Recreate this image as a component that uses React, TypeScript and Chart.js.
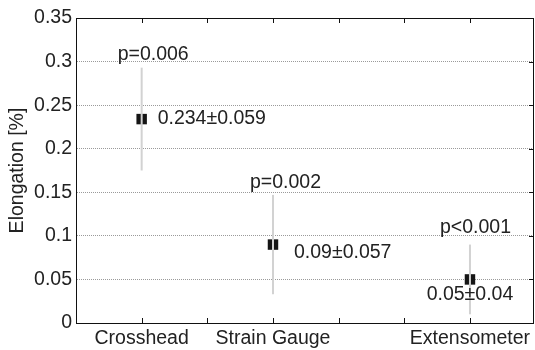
import React, { useEffect, useRef } from "react";
import { Chart, registerables } from "chart.js";

Chart.register(...registerables);

// ---- data ----
const categories = ["Crosshead", "Strain Gauge", "Extensometer"];
const categoryPositions = [1, 2, 3.5];
const means = [0.234, 0.09, 0.05];
const sds = [0.059, 0.057, 0.04];
const pLabels = ["p=0.006", "p=0.002", "p<0.001"];
const valueLabels = ["0.234±0.059", "0.09±0.057", "0.05±0.04"];
const yTickValues = [0, 0.05, 0.1, 0.15, 0.2, 0.25, 0.3, 0.35];
const xTickValues = [0.5, 1, 1.5, 2, 2.5, 3, 3.5, 3.98];

// ---- layout / style (pixels) ----
const FONT = '"Liberation Sans", Arial, Helvetica, sans-serif';
const FONT_SIZE = 19.5;
const TEXT_COLOR = "#222222";
const pLabelOffsets = [
  { dx: -24, dy: -8 },
  { dx: -23, dy: -7 },
  { dx: -30, dy: -12 },
];
const valueLabelOffsets = [
  { dx: 16, dy: 0, align: "left" as CanvasTextAlign },
  { dx: 21, dy: 8, align: "left" as CanvasTextAlign },
  { dx: 0, dy: 15, align: "center" as CanvasTextAlign },
];

const annotationPlugin = {
  id: "frameAndLabels",
  afterDatasetsDraw(chart: any) {
    const { ctx, chartArea } = chart;
    const xs = chart.scales.x;
    const ys = chart.scales.y;
    ctx.save();
    ctx.strokeStyle = "#111111";
    ctx.lineWidth = 1;
    ctx.strokeRect(
      Math.round(chartArea.left) + 0.5,
      Math.round(chartArea.top) + 0.5,
      Math.round(chartArea.right - chartArea.left),
      Math.round(chartArea.bottom - chartArea.top)
    );
    ctx.beginPath();
    xs.ticks.forEach((t: any) => {
      const px = Math.round(xs.getPixelForValue(t.value)) + 0.5;
      if (px <= chartArea.left + 2 || px >= chartArea.right - 2) return;
      ctx.moveTo(px, chartArea.bottom);
      ctx.lineTo(px, chartArea.bottom - 5);
      ctx.moveTo(px, chartArea.top);
      ctx.lineTo(px, chartArea.top + 5);
    });
    ys.ticks.forEach((t: any) => {
      const py = Math.round(ys.getPixelForValue(t.value)) + 0.5;
      if (py <= chartArea.top + 2 || py >= chartArea.bottom - 2) return;
      ctx.moveTo(chartArea.right, py);
      ctx.lineTo(chartArea.right - 4, py);
    });
    ctx.stroke();

    ctx.fillStyle = TEXT_COLOR;
    ctx.font = `${FONT_SIZE}px ${FONT}`;
    categoryPositions.forEach((pos, i) => {
      const px = xs.getPixelForValue(pos);
      const top = ys.getPixelForValue(means[i] + sds[i]);
      const mid = ys.getPixelForValue(means[i]);
      ctx.textAlign = "left";
      ctx.textBaseline = "alphabetic";
      ctx.fillText(pLabels[i], px + pLabelOffsets[i].dx, top + pLabelOffsets[i].dy);
      ctx.textAlign = valueLabelOffsets[i].align;
      ctx.textBaseline = "middle";
      ctx.fillText(valueLabels[i], px + valueLabelOffsets[i].dx, mid + valueLabelOffsets[i].dy);
    });
    ctx.restore();
  },
};

export default function App() {
  const canvasRef = useRef<HTMLCanvasElement | null>(null);

  useEffect(() => {
    if (!canvasRef.current) return;
    const errorBarSets = categoryPositions.map((pos, i) => ({
      type: "line" as const,
      data: [
        { x: pos, y: means[i] - sds[i] },
        { x: pos, y: means[i] + sds[i] },
      ],
      borderColor: "#d2d2d2",
      borderWidth: 2,
      pointRadius: 0,
      fill: false,
      order: 0,
    }));
    const meanSet = {
      type: "scatter" as const,
      data: categoryPositions.map((x, i) => ({ x, y: means[i] })),
      pointStyle: "rect",
      pointRadius: 7.4,
      backgroundColor: "#151515",
      borderWidth: 0,
      order: 1,
    };

    const chart = new Chart(canvasRef.current, {
      type: "scatter",
      data: { datasets: [...errorBarSets, meanSet] as any },
      plugins: [annotationPlugin],
      options: {
        animation: false,
        responsive: false,
        layout: { autoPadding: false, padding: { left: 0, top: 18, right: 2, bottom: 0 } },
        plugins: { legend: { display: false }, tooltip: { enabled: false } },
        scales: {
          x: {
            type: "linear",
            min: 0.5,
            max: 3.98,
            afterFit: (s: any) => {
              s.height = 27;
            },
            afterBuildTicks: (s: any) => {
              s.ticks = xTickValues.map((v) => ({ value: v }));
            },
            grid: { display: false, drawTicks: false },
            border: { display: true, color: "#111111", width: 1 },
            ticks: {
              padding: 0,
              color: TEXT_COLOR,
              font: { family: FONT, size: FONT_SIZE, lineHeight: 1.61 },
              maxRotation: 0,
              autoSkip: false,
              callback: (v: any) => {
                const idx = categoryPositions.indexOf(Number(v));
                return idx >= 0 ? categories[idx] : "";
              },
            },
          },
          y: {
            type: "linear",
            min: 0,
            max: 0.35,
            afterFit: (s: any) => {
              s.width = 76;
            },
            afterBuildTicks: (s: any) => {
              s.ticks = yTickValues.map((v) => ({ value: v }));
            },
            grid: { color: "#9a9a9a", lineWidth: 1, drawTicks: false },
            border: { display: true, color: "#111111", width: 1, dash: [1, 1] },
            title: {
              display: true,
              text: "Elongation [%]",
              color: TEXT_COLOR,
              font: { family: FONT, size: FONT_SIZE },
              padding: { top: 6, bottom: 0 },
            },
            ticks: {
              padding: 4,
              color: TEXT_COLOR,
              font: { family: FONT, size: FONT_SIZE },
              callback: (v: any) => String(Number(Number(v).toFixed(2))),
            },
          },
        },
      },
    });
    return () => chart.destroy();
  }, []);

  return (
    <div style={{ position: "absolute", left: 0, top: 0, width: 535, height: 350, background: "#ffffff" }}>
      <canvas ref={canvasRef} width={535} height={350} style={{ width: 535, height: 350 }} />
    </div>
  );
}
